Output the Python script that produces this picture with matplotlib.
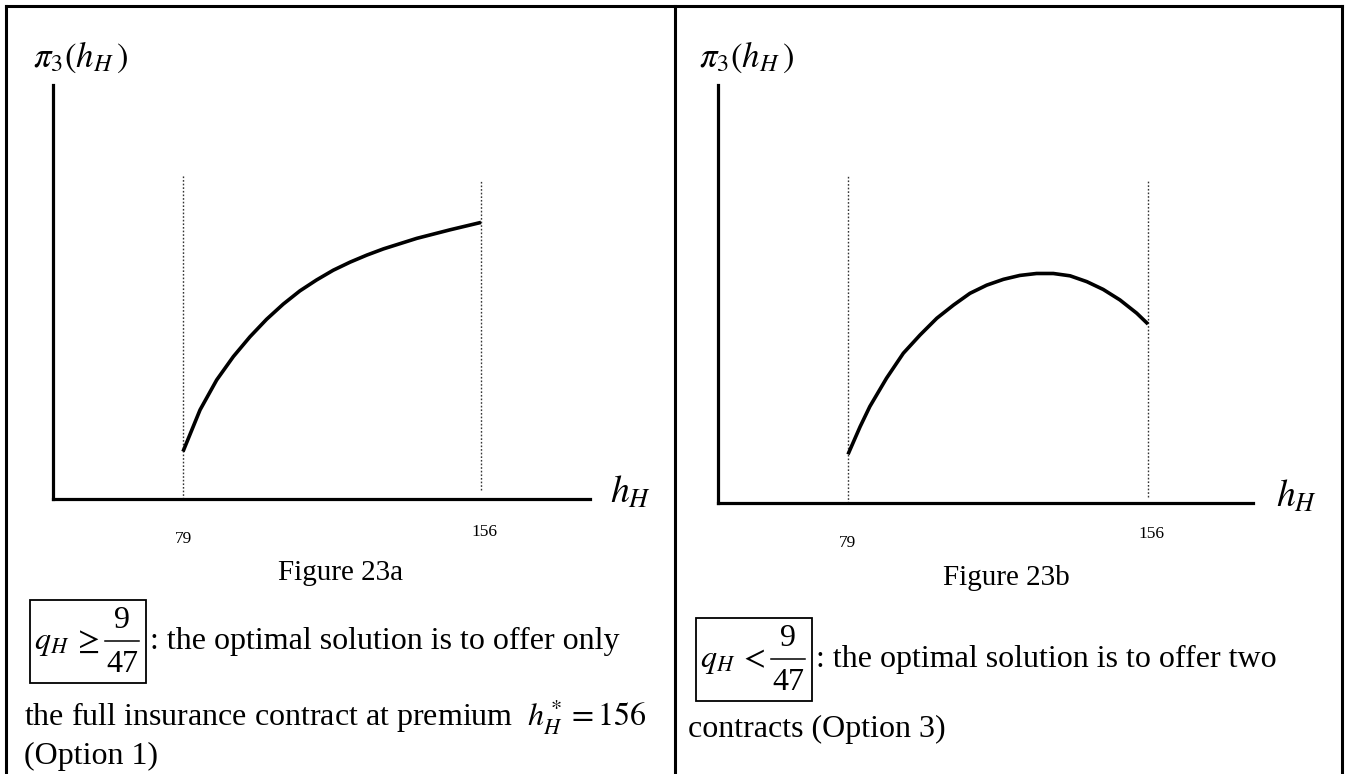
import matplotlib
matplotlib.use('Agg')
import matplotlib.pyplot as plt
from matplotlib.patches import Rectangle

plt.rcParams['font.family'] = ['Liberation Serif', 'DejaVu Serif']
plt.rcParams['mathtext.fontset'] = 'stix'

# data (h_H premium, pi_3 profit in arbitrary units)
h_low, h_high = 79, 156

left_h = [79, 83.4, 87.7, 92.0, 96.3, 100.6, 104.9, 109.2, 113.5, 117.8,
          122.2, 126.5, 130.8, 139.4, 143.7, 148.0, 156]
left_pi = [12.2, 22.9, 30.6, 36.6, 41.7, 46.2, 50.1, 53.5, 56.3, 58.8,
           60.9, 62.7, 64.3, 67.0, 68.1, 69.2, 71.1]

right_h = [79, 82.1, 84.6, 88.9, 93.2, 97.5, 101.8, 106.1, 110.3, 114.6,
           118.9, 123.1, 127.4, 131.7, 136.0, 140.3, 144.5, 148.8, 153.1, 156]
right_pi = [12.5, 19.6, 24.8, 32.1, 38.5, 43.2, 47.5, 50.9, 53.9, 56.0,
            57.5, 58.5, 59.0, 59.0, 58.4, 56.9, 54.9, 52.2, 48.8, 46.0]

W, H = 1348, 774
fig = plt.figure(figsize=(W / 100, H / 100), dpi=100)

# background axes in pixel coordinates for frame and captions
bg = fig.add_axes([0, 0, 1, 1])
bg.set_xlim(0, W)
bg.set_ylim(H, 0)
bg.axis('off')

frame_lw = 2.2
bg.plot([6, 1342], [6, 6], color='black', lw=frame_lw, solid_capstyle='projecting')
for xb in [6, 675, 1342]:
    bg.plot([xb, xb], [6, H + 5], color='black', lw=frame_lw, solid_capstyle='projecting')

PX = 3.89  # pixels per pi unit


def make_panel(x0, x1, ybase, ytop, px79, px156):
    s = (px156 - px79) / (h_high - h_low)
    ax = fig.add_axes([x0 / W, 1 - ybase / H, (x1 - x0) / W, (ybase - ytop) / H])
    ax.set_xlim(h_low - (px79 - x0) / s, h_low + (x1 - px79) / s)
    ax.set_ylim(0, (ybase - ytop) / PX)
    ax.patch.set_visible(False)
    for side in ['top', 'right']:
        ax.spines[side].set_visible(False)
    for side in ['left', 'bottom']:
        ax.spines[side].set_linewidth(2.3)
    ax.set_xticks([])
    ax.set_yticks([])
    return ax


dot = dict(color='#333333', lw=1.0, linestyles=(0, (1.2, 1.4)))

# left panel (Figure 23a)
axl = make_panel(53, 590, 499, 85, 183, 481)
axl.vlines(h_low, 0, 83.3, **dot)
axl.vlines(h_high, 2.3, 82.0, **dot)
axl.plot(left_h, left_pi, color='black', lw=2.6, solid_capstyle='butt', solid_joinstyle='round')
axl.text(h_low, -10.3, '79', ha='center', va='center', fontsize=12.5, clip_on=False)
axl.text(h_high + 0.8, -8.5, '156', ha='center', va='center', fontsize=12.5, clip_on=False)

# right panel (Figure 23b)
axr = make_panel(718, 1253, 503, 85, 848, 1148)
axr.vlines(h_low, 0, 84.3, **dot)
axr.vlines(h_high, 1.5, 83.0, **dot)
axr.plot(right_h, right_pi, color='black', lw=2.6, solid_capstyle='butt', solid_joinstyle='round')
axr.text(h_low, -10.3, '79', ha='center', va='center', fontsize=12.5, clip_on=False)
axr.text(h_high + 0.8, -8.0, '156', ha='center', va='center', fontsize=12.5, clip_on=False)

# axis labels
bg.text(33, 57, r'$\pi_3(h_H\,)$', fontsize=25, ha='left', va='center')
bg.text(699, 57, r'$\pi_3(h_H\,)$', fontsize=25, ha='left', va='center')
bg.text(610, 493, r'$h_H$', fontsize=27, ha='left', va='center')
bg.text(1276, 497, r'$h_H$', fontsize=27, ha='left', va='center')

# captions
bg.text(341, 573, 'Figure 23a', fontsize=21, ha='center', va='center')
bg.text(1006, 578, 'Figure 23b', fontsize=21, ha='center', va='center')


def condition(x, y, sign):
    # boxed "q_H <sign> 9/47" with a full size fraction
    bg.add_patch(Rectangle((x, y), 116, 83, fill=False, ec='black', lw=1.3))
    ym = y + 44
    bg.text(x + 4, ym, r'$q_H$', fontsize=23, ha='left', va='center')
    bg.text(x + 43, ym - 2, sign, fontsize=23, ha='left', va='center')
    bg.plot([x + 75, x + 109], [ym - 3, ym - 3], color='black', lw=1.1)
    bg.text(x + 92, ym - 23, '9', fontsize=23, ha='center', va='center')
    bg.text(x + 92, ym + 20, '47', fontsize=23, ha='center', va='center')


condition(30, 600, r'$\geq$')
condition(696, 618, r'$<$')

body = 23
bg.text(150, 641, ': the optimal solution is to offer only', fontsize=body, ha='left', va='center')
bg.text(24, 717, r'the full insurance contract at premium  $h_H^* = 156$', fontsize=body,
        ha='left', va='center')
bg.text(24, 756, '(Option 1)', fontsize=body, ha='left', va='center')

bg.text(816, 659, ': the optimal solution is to offer two', fontsize=body, ha='left', va='center')
bg.text(688, 729, 'contracts (Option 3)', fontsize=body, ha='left', va='center')

fig.savefig('out.png', dpi=100)
